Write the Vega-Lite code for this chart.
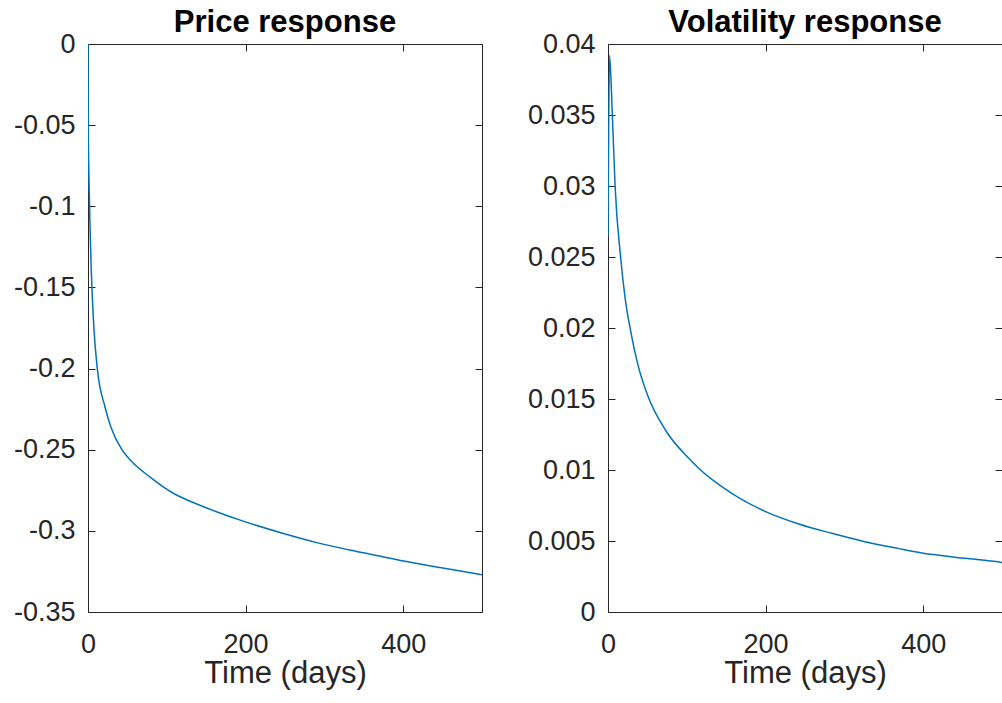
{
  "$schema": "https://vega.github.io/schema/vega-lite/v6.json",
  "autosize": {"type": "pad"},
  "padding": {"left": 13, "top": 7, "right": 0, "bottom": 30},
  "background": "white",
  "bounds": "flush",
  "spacing": 126,
  "datasets": {
    "price": [
      {"t": 0, "v": 0},
      {"t": 0.3, "v": -0.05},
      {"t": 2, "v": -0.1},
      {"t": 5, "v": -0.15},
      {"t": 7.6, "v": -0.176},
      {"t": 11.8, "v": -0.2},
      {"t": 21.5, "v": -0.2235},
      {"t": 29, "v": -0.236},
      {"t": 43, "v": -0.25},
      {"t": 54, "v": -0.2565},
      {"t": 78, "v": -0.2666},
      {"t": 110, "v": -0.2773},
      {"t": 129, "v": -0.2816},
      {"t": 163, "v": -0.2882},
      {"t": 195, "v": -0.2937},
      {"t": 247, "v": -0.3015},
      {"t": 289, "v": -0.3071},
      {"t": 332, "v": -0.3118},
      {"t": 374, "v": -0.3159},
      {"t": 416, "v": -0.32},
      {"t": 458, "v": -0.3235},
      {"t": 500, "v": -0.327}
    ],
    "vol": [
      {"t": 0, "v": 0.0265},
      {"t": 2, "v": 0.0392},
      {"t": 5.5, "v": 0.035},
      {"t": 9, "v": 0.03},
      {"t": 16, "v": 0.025},
      {"t": 22, "v": 0.022},
      {"t": 28.7, "v": 0.0198},
      {"t": 38, "v": 0.0174},
      {"t": 50, "v": 0.0153},
      {"t": 73, "v": 0.0128},
      {"t": 102.5, "v": 0.01082},
      {"t": 115, "v": 0.01012},
      {"t": 157, "v": 0.00836},
      {"t": 200, "v": 0.00707},
      {"t": 242, "v": 0.0062},
      {"t": 284, "v": 0.00554},
      {"t": 326, "v": 0.00495},
      {"t": 368, "v": 0.00448},
      {"t": 410, "v": 0.00406},
      {"t": 453, "v": 0.00378},
      {"t": 498, "v": 0.0035},
      {"t": 500, "v": 0.00348}
    ]
  },
  "hconcat": [
    {
      "width": 394,
      "height": 568,
      "title": {"text": "Price response"},
      "data": {"name": "price"},
      "layer": [
        {
          "mark": {"type": "line", "color": "#0072BD", "strokeWidth": 1.5, "interpolate": "monotone", "clip": true},
          "encoding": {
            "x": {"field": "t", "type": "quantitative", "scale": {"domain": [0, 500], "nice": false, "zero": false},
                  "axis": {"values": [0, 200, 400], "title": "Time (days)", "labelExpr": "toString(datum.value)"}},
            "y": {"field": "v", "type": "quantitative", "scale": {"domain": [-0.35, 0], "nice": false, "zero": false},
                  "axis": {"values": [-0.35, -0.3, -0.25, -0.2, -0.15, -0.1, -0.05, 0], "title": null, "labelExpr": "toString(datum.value)"}}
          }
        },
        {
          "mark": {"type": "line", "opacity": 0},
          "encoding": {
            "x": {"field": "t", "type": "quantitative", "scale": {"domain": [0, 500], "nice": false, "zero": false},
                  "axis": {"orient": "top", "values": [0, 200, 400], "labels": false, "title": null}},
            "y": {"field": "v", "type": "quantitative", "scale": {"domain": [-0.35, 0], "nice": false, "zero": false},
                  "axis": {"orient": "right", "values": [-0.35, -0.3, -0.25, -0.2, -0.15, -0.1, -0.05, 0], "labels": false, "title": null}}
          }
        }
      ],
      "resolve": {"axis": {"x": "independent", "y": "independent"}}
    },
    {
      "width": 394,
      "height": 568,
      "title": {"text": "Volatility response"},
      "data": {"name": "vol"},
      "layer": [
        {
          "mark": {"type": "line", "color": "#0072BD", "strokeWidth": 1.5, "interpolate": "monotone", "clip": true},
          "encoding": {
            "x": {"field": "t", "type": "quantitative", "scale": {"domain": [0, 500], "nice": false, "zero": false},
                  "axis": {"values": [0, 200, 400], "title": "Time (days)", "labelExpr": "toString(datum.value)"}},
            "y": {"field": "v", "type": "quantitative", "scale": {"domain": [0, 0.04], "nice": false, "zero": false},
                  "axis": {"values": [0, 0.005, 0.01, 0.015, 0.02, 0.025, 0.03, 0.035, 0.04], "title": null, "labelExpr": "toString(datum.value)"}}
          }
        },
        {
          "mark": {"type": "line", "opacity": 0},
          "encoding": {
            "x": {"field": "t", "type": "quantitative", "scale": {"domain": [0, 500], "nice": false, "zero": false},
                  "axis": {"orient": "top", "values": [0, 200, 400], "labels": false, "title": null}},
            "y": {"field": "v", "type": "quantitative", "scale": {"domain": [0, 0.04], "nice": false, "zero": false},
                  "axis": {"orient": "right", "values": [0, 0.005, 0.01, 0.015, 0.02, 0.025, 0.03, 0.035, 0.04], "labels": false, "title": null}}
          }
        }
      ],
      "resolve": {"axis": {"x": "independent", "y": "independent"}}
    }
  ],
  "config": {
    "view": {"stroke": null},
    "axis": {
      "grid": false,
      "domainColor": "#262626",
      "domainWidth": 1,
      "tickColor": "#262626",
      "tickWidth": 1,
      "tickSize": -7,
      "labelColor": "#262626",
      "titleColor": "#262626",
      "labelFont": "Liberation Sans",
      "labelFontSize": 27,
      "titleFont": "Liberation Sans",
      "titleFontSize": 31,
      "titleFontWeight": "normal",
      "labelFlush": false,
      "labelOverlap": false
    },
    "axisBottom": {"labelPadding": 26, "titlePadding": 1},
    "axisLeft": {"labelPadding": 20},
    "title": {"font": "Liberation Sans", "fontSize": 31, "fontWeight": "bold", "color": "#000000", "offset": -9, "anchor": "middle"}
  }
}
